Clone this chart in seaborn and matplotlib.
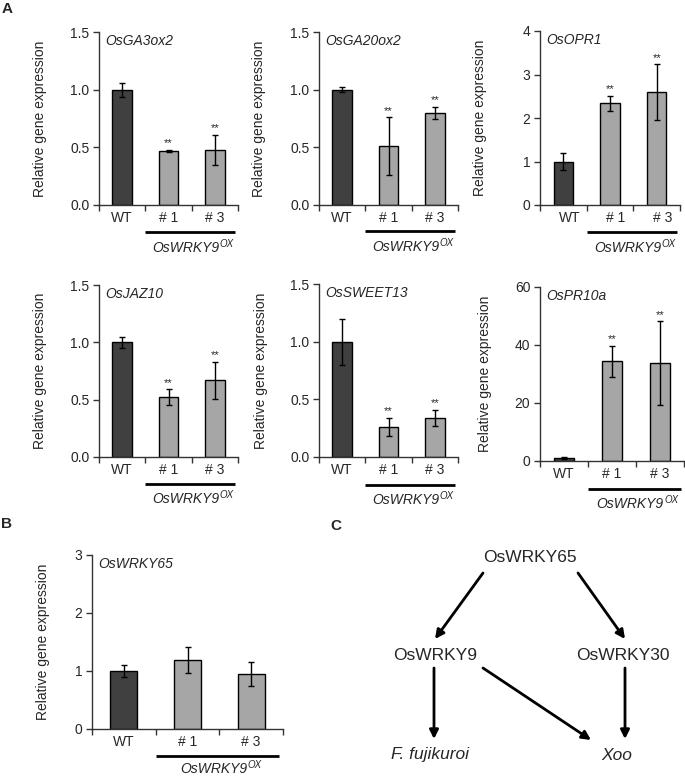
import numpy as np
import pandas as pd
import seaborn as sns
import matplotlib
matplotlib.use("Agg")
import matplotlib.pyplot as plt
from matplotlib.transforms import offset_copy, ScaledTranslation
from matplotlib.patches import FancyArrowPatch

# ---------------- data ----------------
lines = ["WT", "# 1", "# 3"]
genes = ["OsGA3ox2", "OsGA20ox2", "OsOPR1", "OsJAZ10", "OsSWEET13", "OsPR10a", "OsWRKY65"]

ga3ox2_mean = [1.00, 0.47, 0.48]
ga3ox2_err = [0.06, 0.01, 0.13]
ga20ox2_mean = [1.00, 0.51, 0.80]
ga20ox2_err = [0.02, 0.25, 0.05]
opr1_mean = [1.00, 2.34, 2.59]
opr1_err = [0.20, 0.17, 0.64]
jaz10_mean = [1.00, 0.52, 0.67]
jaz10_err = [0.05, 0.07, 0.16]
sweet13_mean = [1.00, 0.26, 0.34]
sweet13_err = [0.20, 0.08, 0.07]
pr10a_mean = [1.0, 34.4, 33.8]
pr10a_err = [0.3, 5.4, 14.4]
wrky65_mean = [1.00, 1.19, 0.95]
wrky65_err = [0.10, 0.23, 0.21]

signif_A = ["", "**", "**"]
signif_B = ["", "", ""]

yticks_15 = [0.0, 0.5, 1.0, 1.5]
yticks_opr1 = [0, 1, 2, 3, 4]
yticks_pr10a = [0, 20, 40, 60]
yticks_wrky65 = [0, 1, 2, 3]

group_main = "OsWRKY9"
group_sup = "OX"

# ---------------- style ----------------
sns.set_style("ticks")
plt.rcParams["font.family"] = ["Liberation Sans", "DejaVu Sans"]

W, H = 685, 777
fig = plt.figure(figsize=(W / 100, H / 100), dpi=100)

dark = "#404040"
light = "#a6a6a6"
spine_col = "#333333"


def px_axes(x0, x1, ytop, ybot):
    return fig.add_axes([x0 / W, (H - ybot) / H, (x1 - x0) / W, (ybot - ytop) / H])


def panel(box, means, errs, gene, yticks, fmt, signif, line_off, label_off,
          ylab_off, xlab_dx=0):
    x0, x1, ytop, ybot = box
    ax = px_axes(x0, x1, ytop, ybot)
    df = pd.DataFrame({"line": lines, "value": means})
    sns.barplot(data=df, x="line", y="value", hue="line",
                palette=[dark, light, light], width=0.42, edgecolor="black",
                linewidth=1.0, legend=False, errorbar=None, ax=ax)
    ax.errorbar(x=np.arange(3), y=means, yerr=errs, fmt="none",
                ecolor="black", elinewidth=1.0, capsize=2.5, capthick=1.0)
    ax.set_xlim(-0.5, 2.5)
    ax.set_ylim(yticks[0], yticks[-1])
    ax.set_yticks(yticks)
    ax.set_yticklabels([fmt.format(t) for t in yticks], fontsize=10)
    ax.set_xticks([0, 1, 2])
    ax.set_xticklabels(lines, fontsize=10)
    ax.set_xticks([-0.5, 0.5, 1.5, 2.5], minor=True)
    ax.tick_params(axis="x", which="major", length=0, pad=4.5)
    ax.tick_params(axis="x", which="minor", length=4, width=1, color=spine_col,
                   direction="out")
    ax.tick_params(axis="y", length=4, width=1, color=spine_col, direction="out",
                   pad=3)
    if xlab_dx:
        for lab in ax.get_xticklabels():
            lab.set_transform(lab.get_transform() +
                              ScaledTranslation(xlab_dx / 100, 0, fig.dpi_scale_trans))
    for s in ["top", "right"]:
        ax.spines[s].set_visible(False)
    for s in ["left", "bottom"]:
        ax.spines[s].set_color(spine_col)
        ax.spines[s].set_linewidth(1.0)
    ax.set_xlabel("")
    ax.set_ylabel("Relative gene expression", fontsize=10)
    ax.yaxis.set_label_coords(-ylab_off / (x1 - x0), 0.5)
    # gene name
    ax.annotate(gene, xy=(0, 1), xycoords="axes fraction", xytext=(6, -9),
                textcoords="offset pixels", ha="left", va="center",
                fontsize=10, style="italic")
    # significance
    for i, (m, e, s) in enumerate(zip(means, errs, signif)):
        if s:
            ax.annotate(s, xy=(i, m + e), xytext=(0, 1), textcoords="offset points",
                        ha="center", va="bottom", fontsize=8)
    # group line and label
    tr = offset_copy(ax.get_xaxis_transform(), fig=fig, y=-line_off, units="dots")
    ax.plot([0.5, 2.43], [0, 0], transform=tr, color="black", lw=2,
            clip_on=False, solid_capstyle="butt")
    tr2 = offset_copy(ax.get_xaxis_transform(), fig=fig, x=-6, y=-label_off,
                      units="dots")
    t1 = ax.text(1.5, 0, group_main, transform=tr2, ha="center", va="center",
                 fontsize=10, style="italic")
    ax.annotate(group_sup, xy=(1.0, 0.78), xycoords=t1, xytext=(0.3, 0),
                textcoords="offset points", ha="left", va="center",
                fontsize=7, style="italic")
    return ax


panel((99, 238, 32, 205), ga3ox2_mean, ga3ox2_err, genes[0], yticks_15, "{:.1f}",
      signif_A, 27, 43, 52)
panel((319, 458, 32, 205), ga20ox2_mean, ga20ox2_err, genes[1], yticks_15, "{:.1f}",
      signif_A, 26, 42, 53)
panel((540, 680, 31, 205), opr1_mean, opr1_err, genes[2], yticks_opr1, "{:d}",
      signif_A, 27, 43, 53, xlab_dx=6)
panel((99, 238, 285, 457), jaz10_mean, jaz10_err, genes[3], yticks_15, "{:.1f}",
      signif_A, 27, 42, 52)
panel((319, 458, 284, 457), sweet13_mean, sweet13_err, genes[4], yticks_15, "{:.1f}",
      signif_A, 28, 43, 51)
panel((540, 684, 287, 461), pr10a_mean, pr10a_err, genes[5], yticks_pr10a, "{:d}",
      signif_A, 28, 43, 48)
panel((92, 283, 555, 729), wrky65_mean, wrky65_err, genes[6], yticks_wrky65, "{:d}",
      signif_B, 27, 40, 42)

# panel letters
fig.text(7 / W, 1 - 9 / H, "A", fontsize=11, fontweight="bold", ha="center", va="center")
fig.text(7 / W, 1 - 524 / H, "B", fontsize=11, fontweight="bold", ha="center", va="center")
fig.text(336 / W, 1 - 526 / H, "C", fontsize=11, fontweight="bold", ha="center", va="center")

# ---------------- panel C diagram ----------------
axc = fig.add_axes([330 / W, 0, 1 - 330 / W, (H - 540) / H])
axc.set_xlim(330, 685)
axc.set_ylim(777, 540)
axc.axis("off")

nodes = {
    "OsWRKY65": (530, 557, "normal"),
    "OsWRKY9": (435, 655, "normal"),
    "OsWRKY30": (623, 655, "normal"),
    "F. fujikuroi": (430, 755, "italic"),
    "Xoo": (617, 755, "italic"),
}
for name, (x, y, st) in nodes.items():
    axc.text(x, y, name, ha="center", va="center", fontsize=12.5, style=st)

arrows = [((483, 573), (435, 639)), ((578, 573), (625, 639)),
          ((434, 668), (434, 739)), ((483, 668), (591, 740)),
          ((625, 668), (625, 739))]
for (xa, ya), (xb, yb) in arrows:
    axc.add_patch(FancyArrowPatch((xa, ya), (xb, yb), arrowstyle="-|>",
                                  mutation_scale=13, lw=2, color="black",
                                  shrinkA=0, shrinkB=0))

fig.savefig("out.png", dpi=100)
